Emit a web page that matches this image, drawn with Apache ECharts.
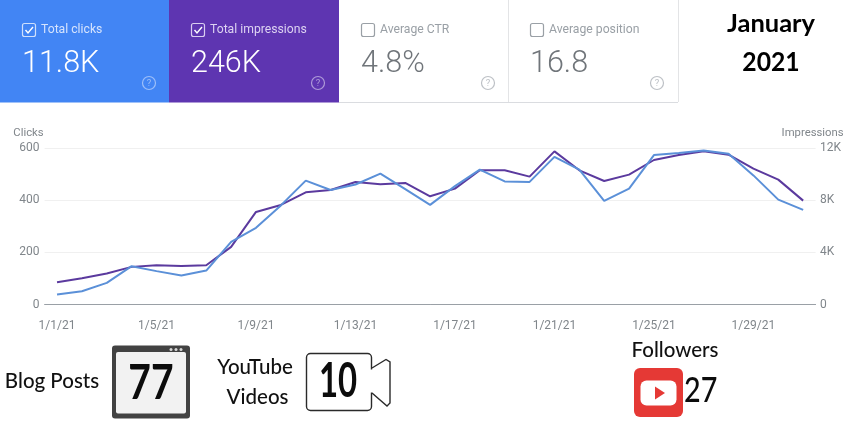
<!DOCTYPE html>
<html><head><meta charset="utf-8">
<script src="https://cdn.jsdelivr.net/npm/echarts@6/dist/echarts.min.js"></script>
<style>html,body{margin:0;padding:0;background:#fff}#c{width:850px;height:425px}</style>
</head><body><div id="c"></div>
<script>
const days = ['1/1/21','1/2/21','1/3/21','1/4/21','1/5/21','1/6/21','1/7/21','1/8/21','1/9/21','1/10/21','1/11/21','1/12/21','1/13/21','1/14/21','1/15/21','1/16/21','1/17/21','1/18/21','1/19/21','1/20/21','1/21/21','1/22/21','1/23/21','1/24/21','1/25/21','1/26/21','1/27/21','1/28/21','1/29/21','1/30/21','1/31/21'];
const clicks = [38,51,83,147,128,111,130,240,294,380,475,439,460,502,442,382,454,517,472,470,566,517,397,444,573,581,590,578,495,402,363];
const impressions = [1710,2017,2374,2885,3013,2961,3013,4417,7097,7633,8604,8782,9395,9216,9318,8297,8884,10289,10289,9803,11744,10289,9471,9957,11080,11463,11744,11489,10416,9574,7965];
const cardLabels = ['Total clicks','Total impressions','Average CTR','Average position'];
const cardValues = ['11.8K','246K','4.8%','16.8'];
const monthLabel = 'January', yearLabel = '2021';
const blogLabel = 'Blog Posts', blogCount = '77';
const videoLabels = ['YouTube','Videos'], videoCount = '10';
const followerLabel = 'Followers', followerCount = '27';

const RB = 'Roboto, sans-serif', HAND = 'Lato, sans-serif';
const g = [];
const rect = (x,y,w,h,fill,stroke,r,lw) => g.push({type:'rect',shape:{x,y,width:w,height:h,r:r||0},style:{fill:fill||'none',stroke:stroke||'none',lineWidth:lw||1}});
const text = (x,y,t,font,size,fill,align,weight,sx) => g.push({type:'text',x,y,scaleX:sx||1,style:{text:t,fontFamily:font,fontSize:size,fill,align:align||'left',verticalAlign:'middle',fontWeight:weight||400}});

const cards = [
 {x:0,w:169,bg:'#4285f4',fg:'#ffffff',muted:'#cfe0fc',lab:'#d5e3fd',icon:'#9dbff9',on:true},
 {x:169,w:170,bg:'#5e35b1',fg:'#ffffff',muted:'#d9cdf0',lab:'#ddd3f2',icon:'#ae9ad8',on:true},
 {x:339,w:169,bg:'#ffffff',fg:'#70757a',muted:'#9aa0a6',lab:'#9aa0a6',icon:'#bdc1c6',on:false},
 {x:508,w:170,bg:'#ffffff',fg:'#70757a',muted:'#9aa0a6',lab:'#9aa0a6',icon:'#bdc1c6',on:false}
];
cards.forEach((c,i)=>{
  rect(c.x,0,c.w,102.5,c.bg);
  rect(c.x+22.5,23.5,13,13,'none',c.muted,2,1.2);
  if(c.on) g.push({type:'polyline',shape:{points:[[c.x+25.5,30],[c.x+28,33],[c.x+33,27]]},style:{stroke:c.fg,fill:'none',lineWidth:1.4}});
  text(c.x+41,29.5,cardLabels[i],RB,12.2,c.lab);
  text(c.x+22,64,cardValues[i],RB,30.5,c.fg,'left',300);
  g.push({type:'circle',shape:{cx:c.x+149,cy:83,r:6.5},style:{fill:'none',stroke:c.icon,lineWidth:1.2}});
  text(c.x+149,83.5,'?',RB,9.5,c.icon,'center');
});
g.push({type:'line',shape:{x1:339,y1:102.5,x2:678,y2:102.5},style:{stroke:'#dadce0',lineWidth:1}});
g.push({type:'line',shape:{x1:508.5,y1:0,x2:508.5,y2:102},style:{stroke:'#e3e4e6',lineWidth:1}});
g.push({type:'line',shape:{x1:678.5,y1:0,x2:678.5,y2:102},style:{stroke:'#e3e4e6',lineWidth:1}});

text(771,24,monthLabel,HAND,25.5,'#000','center',700);
text(771,63,yearLabel,HAND,26,'#000','center',700,0.95);

// Blog posts
text(52,381,blogLabel,HAND,20.5,'#111','center',500);
rect(112,345.5,78,73,'#424242',null,3);
rect(116,352,70,61.5,'#f2f2f2',null,2);
[171,176,181].forEach(cx=>g.push({type:'circle',shape:{cx,cy:349.5,r:1.5},style:{fill:'#d8d8d8'}}));
text(151,384,blogCount,HAND,47,'#0c0c0c','center',700,0.83);

// Videos
text(255,367,videoLabels[0],HAND,20.5,'#111','center',500);
text(257.5,397.5,videoLabels[1],HAND,20.5,'#111','center',500);
rect(306.5,353.5,65,57,'#fff','#2a2a2a',4,1.4);
rect(370,369.5,3.5,23,'#fff');
g.push({type:'polyline',shape:{points:[[372,368],[386,359.5],[390,362],[390,403],[387,406],[372,393]]},style:{stroke:'#2a2a2a',fill:'none',lineWidth:1.4}});
text(338,382,videoCount,HAND,47,'#0c0c0c','center',700,0.7);

// Followers
text(675,350,followerLabel,HAND,20.5,'#111','center',500);
rect(634,368,49,49,'#e53935',null,6);
rect(640.5,380.5,36,25,'#fff',null,6);
g.push({type:'polygon',shape:{points:[[655,386.5],[665,393],[655,399.5]]},style:{fill:'#e53935'}});
text(684,391,followerCount,HAND,35,'#0c0c0c','left',500,0.82);

const chart = echarts.init(document.getElementById('c'));
const axisText = {color:'#80868b',fontFamily:RB,fontSize:11.3};
chart.setOption({
  animation:false,
  grid:{left:44.6,right:34.4,top:148,bottom:120.5,containLabel:false},
  xAxis:{type:'category',data:days,boundaryGap:true,
    axisTick:{show:false},axisLine:{lineStyle:{color:'#9aa0a6',width:1}},
    axisLabel:{...axisText,fontSize:12,interval:3,margin:15}},
  yAxis:[
   {type:'value',min:0,max:600,interval:200,name:'Clicks',nameGap:9,
    nameTextStyle:{...axisText,align:'right',padding:[0,1,0,0]},
    axisLine:{show:false},axisTick:{show:false},
    axisLabel:{...axisText,fontSize:12,margin:5,padding:[2,0,0,0]},
    splitLine:{lineStyle:{color:'#f0f0f0',width:1}}},
   {type:'value',min:0,max:12000,interval:4000,name:'Impressions',nameGap:9,
    nameTextStyle:{...axisText,align:'center',padding:[0,6,0,0]},
    axisLine:{show:false},axisTick:{show:false},
    axisLabel:{...axisText,fontSize:12,margin:4.5,padding:[2,0,0,0],formatter:v=>v===0?'0':(v/1000)+'K'},
    splitLine:{show:false}}
  ],
  series:[
   {name:'Impressions',type:'line',yAxisIndex:1,data:impressions,symbol:'none',smooth:false,lineStyle:{color:'#5b3a9e',width:2}},
   {name:'Clicks',type:'line',yAxisIndex:0,data:clicks,symbol:'none',smooth:false,lineStyle:{color:'#5b90d8',width:2}}
  ],
  graphic:{elements:g}
});
</script></body></html>
